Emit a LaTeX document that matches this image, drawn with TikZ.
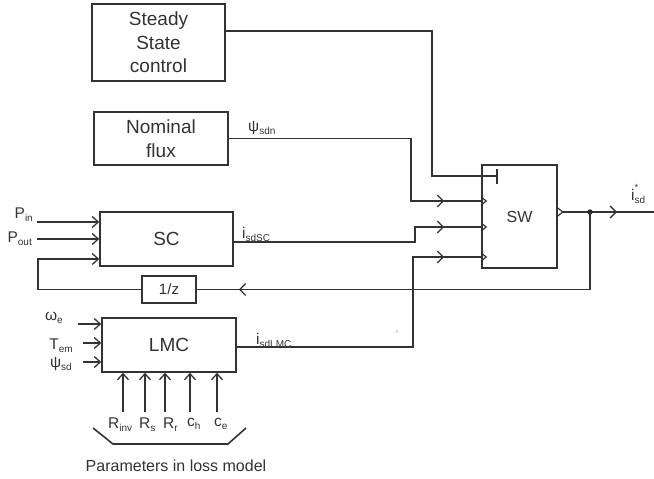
\documentclass[tikz,border=0pt]{standalone}
\usepackage{fontspec}
\setmainfont{Liberation Sans}
\usetikzlibrary{arrows.meta,decorations.markings}
\newcommand{\subl}[2]{#1\raisebox{-0.45ex}{\fontsize{10}{10}\selectfont #2}}

\begin{document}
\begin{tikzpicture}[x=1pt, y=-1pt,
  blk/.style={draw=black!80, line width=1.6pt, fill=white, inner sep=0pt, align=center,
              text=black!80, font=\fontsize{19}{23.5}\selectfont},
  wire/.style={draw=black!80, line width=1.6pt},
  tip/.style={-{Straight Barb[length=6pt,width=11pt,line width=1.3pt]}},
  midarrow/.style={postaction={decorate}, decoration={markings,
    mark=at position -#1 with {\arrow{Straight Barb[length=6pt,width=12pt,line width=1.3pt]}}}},
  lbl/.style={text=black!80, inner sep=0pt, font=\fontsize{15.5}{15.5}\selectfont}]
  \useasboundingbox (0,0) rectangle (654,479);
  % Draw the blocks
  \node[blk, minimum width=133pt, minimum height=77pt] (ssc) at (158.5,42.5) {Steady\\State\\control};
  \node[blk, minimum width=134pt, minimum height=53pt] (nomflux) at (161,138.5) {Nominal\\flux};
  \node[blk, minimum width=133pt, minimum height=54pt] (sc) at (166.5,239) {SC};
  \node[blk, minimum width=54pt, minimum height=27pt, font=\fontsize{15}{15}\selectfont] (delay) at (169,289.5) {1/z};
  \node[blk, minimum width=134pt, minimum height=54pt] (lmc) at (169,345) {LMC};
  \node[blk, minimum width=75pt, minimum height=103pt, font=\fontsize{16}{16}\selectfont] (sw) at (519.5,216.5) {SW};
  % Ports of the switch
  \coordinate (tee) at (498,176);
  \coordinate (in1) at (sw.west |- 0,201);
  \coordinate (in2) at (sw.west |- 0,227);
  \coordinate (in3) at (sw.west |- 0,257);
  \coordinate (swout) at (sw.east |- 0,212);
  \coordinate (jn) at (590,212);
  \coordinate (isd) at (654,212);
  \foreach \p in {in1,in2,in3,swout}
    \draw[wire, line width=1.2pt] ([yshift=4pt]\p) -- ++(5,4) -- ++(-5,4);
  % Signals into the switch
  \draw[wire, -{Bar[width=15pt,line width=1.6pt]}] ([yshift=11.5pt]ssc.east) -| (432,176) -- (tee);
  \draw[wire, midarrow=37pt] (nomflux.east) -| (411,201) -- (in1);
  \draw[wire, midarrow=37pt] ([yshift=-3pt]sc.east) -| (415,227) -- (in2);
  \draw[wire, midarrow=37pt] ([yshift=-2pt]lmc.east) -| (413,257) -- (in3);
  % Output and feedback through 1/z
  \draw[wire] ([xshift=5pt]swout) -- (jn);
  \draw[wire, midarrow=37pt] (jn) -- (isd);
  \fill[black!85] (jn) circle (2.7pt);
  \draw[wire, midarrow=42pt] (jn) |- (delay.east);
  \draw[wire, tip] (delay.west) -| (38,259) -- (sc.west |- 0,259);
  % Inputs of SC and LMC
  \foreach \n/\x/\y in {pin/37/222, pout/37/239, we/78/324, tem/83/343, psd/83/362} {
    \coordinate (\n) at (\x,\y);
  }
  \foreach \n in {pin,pout} \draw[wire, tip] (\n) -- (sc.west |- \n);
  \foreach \n in {we,tem,psd} \draw[wire, tip] (\n) -- (lmc.west |- \n);
  \foreach \n/\x in {rinv/123, rs/145, rr/165, ch/190, ce/217} {
    \coordinate (\n) at (\x,412);
    \draw[wire, tip] (\n) -- (lmc.south -| \n);
  }
  % Labels
  \node[lbl, anchor=base east] (pinl) at (33,218) {\subl{P}{in}};
  \node[lbl, anchor=base east] (poutl) at (32,242) {\subl{P}{out}};
  \node[lbl, anchor=base east] (wel) at (63,320) {\subl{ω}{e}};
  \node[lbl, anchor=base east] (teml) at (73,349) {\subl{T}{em}};
  \node[lbl, anchor=base east] (psdl) at (72,367) {\subl{ψ}{sd}};
  \node[lbl, anchor=base west] (psil) at (248,131) {\subl{ψ}{sdn}};
  \node[lbl, anchor=base west] (iscl) at (242,238) {\subl{i}{sdSC}};
  \node[lbl, anchor=base west] (ilmcl) at (256,344) {\subl{i}{sdLMC}};
  \node[lbl, anchor=base west] (isdl) at (631,200)
    {i\rlap{\raisebox{1.1ex}{\fontsize{9}{9}\selectfont *}}\raisebox{-0.45ex}{\fontsize{10}{10}\selectfont sd}};
  \node[lbl, anchor=base west] (rinvl) at (108,428) {\subl{R}{inv}};
  \node[lbl, anchor=base west] (rsl) at (139,428) {\subl{R}{s}};
  \node[lbl, anchor=base west] (rrl) at (163,428) {\subl{R}{r}};
  \node[lbl, anchor=base west] (chl) at (187,426) {\subl{c}{h}};
  \node[lbl, anchor=base west] (cel) at (214,426) {\subl{c}{e}};
  \node[lbl, font=\fontsize{8}{8}\selectfont] (tick) at (397,334) {'};
  % Parameter bracket
  \draw[wire] (93,428) -- (113,444) -- (228,444) -- (246,428);
  \node[lbl, font=\fontsize{16}{16}\selectfont] (plm) at (176,466) {Parameters in loss model};
\end{tikzpicture}
\end{document}
